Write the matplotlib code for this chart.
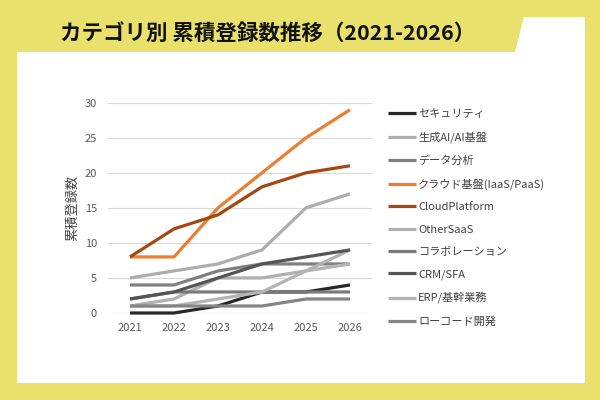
import matplotlib
matplotlib.use('Agg')
import matplotlib.pyplot as plt
from matplotlib.patches import Rectangle, Polygon

plt.rcParams['font.family'] = ['Noto Sans CJK JP', 'DejaVu Sans']

years = ['2021', '2022', '2023', '2024', '2025', '2026']
series_names = ['セキュリティ', '生成AI/AI基盤', 'データ分析', 'クラウド基盤(IaaS/PaaS)',
                'CloudPlatform', 'OtherSaaS', 'コラボレーション', 'CRM/SFA',
                'ERP/基幹業務', 'ローコード開発']
security = [0, 0, 1, 3, 3, 4]
gen_ai = [5, 6, 7, 9, 15, 17]
data_analysis = [4, 4, 6, 7, 7, 7]
cloud_infra = [8, 8, 15, 20, 25, 29]
cloud_platform = [8, 12, 14, 18, 20, 21]
other_saas = [1, 2, 5, 5, 6, 9]
collaboration = [2, 3, 3, 3, 3, 3]
crm_sfa = [2, 3, 5, 7, 8, 9]
erp = [1, 1, 2, 3, 6, 7]
low_code = [1, 1, 1, 1, 2, 2]
series_values = [security, gen_ai, data_analysis, cloud_infra, cloud_platform,
                 other_saas, collaboration, crm_sfa, erp, low_code]
colors = ['#262626', '#ADADAD', '#808080', '#ED7D31', '#A5480F',
          '#B0B0B0', '#7A7A7A', '#555555', '#B4B4B4', '#858585']

YELLOW = '#E9E16B'
W, H = 600, 400

fig = plt.figure(figsize=(6, 4), dpi=100)
fig.patch.set_facecolor(YELLOW)

def fx(x):
    return x / W

def fy(y):
    return 1 - y / H

fig.patches.append(Rectangle((fx(17), fy(383)), fx(585) - fx(17), fy(17) - fy(383),
                             transform=fig.transFigure, facecolor='white',
                             edgecolor='none', zorder=0))
fig.patches.append(Polygon([(fx(17), fy(16)), (fx(524), fy(16)), (fx(515), fy(52)),
                            (fx(17), fy(52))], closed=True, transform=fig.transFigure,
                           facecolor=YELLOW, edgecolor='none', zorder=0))

fig.text(fx(60), fy(33), 'カテゴリ別 累積登録数推移（2021-2026）', ha='left', va='center',
         fontsize=15.5, fontweight='bold', color='#111111')

ax = fig.add_axes([fx(108), fy(313), fx(372) - fx(108), fy(102.7) - fy(313)])
ax.set_zorder(2)
ax.set_facecolor('none')
x = list(range(len(years)))
for name, vals, c in zip(series_names, series_values, colors):
    ax.plot(x, vals, color=c, lw=2.3, label=name, solid_joinstyle='round',
            solid_capstyle='butt', clip_on=False)

ax.set_xlim(-0.5, len(years) - 0.5)
ax.set_ylim(0, 30)
ax.set_yticks([0, 5, 10, 15, 20, 25, 30])
ax.set_xticks(x)
ax.set_xticklabels(years)
ax.grid(axis='y', color='#D9D9D9', lw=0.8)
ax.set_axisbelow(True)
for s in ax.spines.values():
    s.set_visible(False)
ax.tick_params(axis='both', length=0, labelsize=8, colors='#595959')
ax.tick_params(axis='y', pad=8)
ax.tick_params(axis='x', pad=7)
ax.set_ylabel('累積登録数', fontsize=9.5, color='#404040')
ax.yaxis.set_label_coords(-0.11, 0.5)

leg = fig.legend(loc='upper left', bbox_to_anchor=(fx(388), fy(109)), frameon=False,
                 fontsize=8, borderpad=0, borderaxespad=0, labelspacing=1.1,
                 handlelength=2.5, handletextpad=0.2)
leg.set_zorder(3)
for t in leg.get_texts():
    t.set_color('#404040')

fig.savefig('out.png', dpi=100, facecolor=fig.get_facecolor())
